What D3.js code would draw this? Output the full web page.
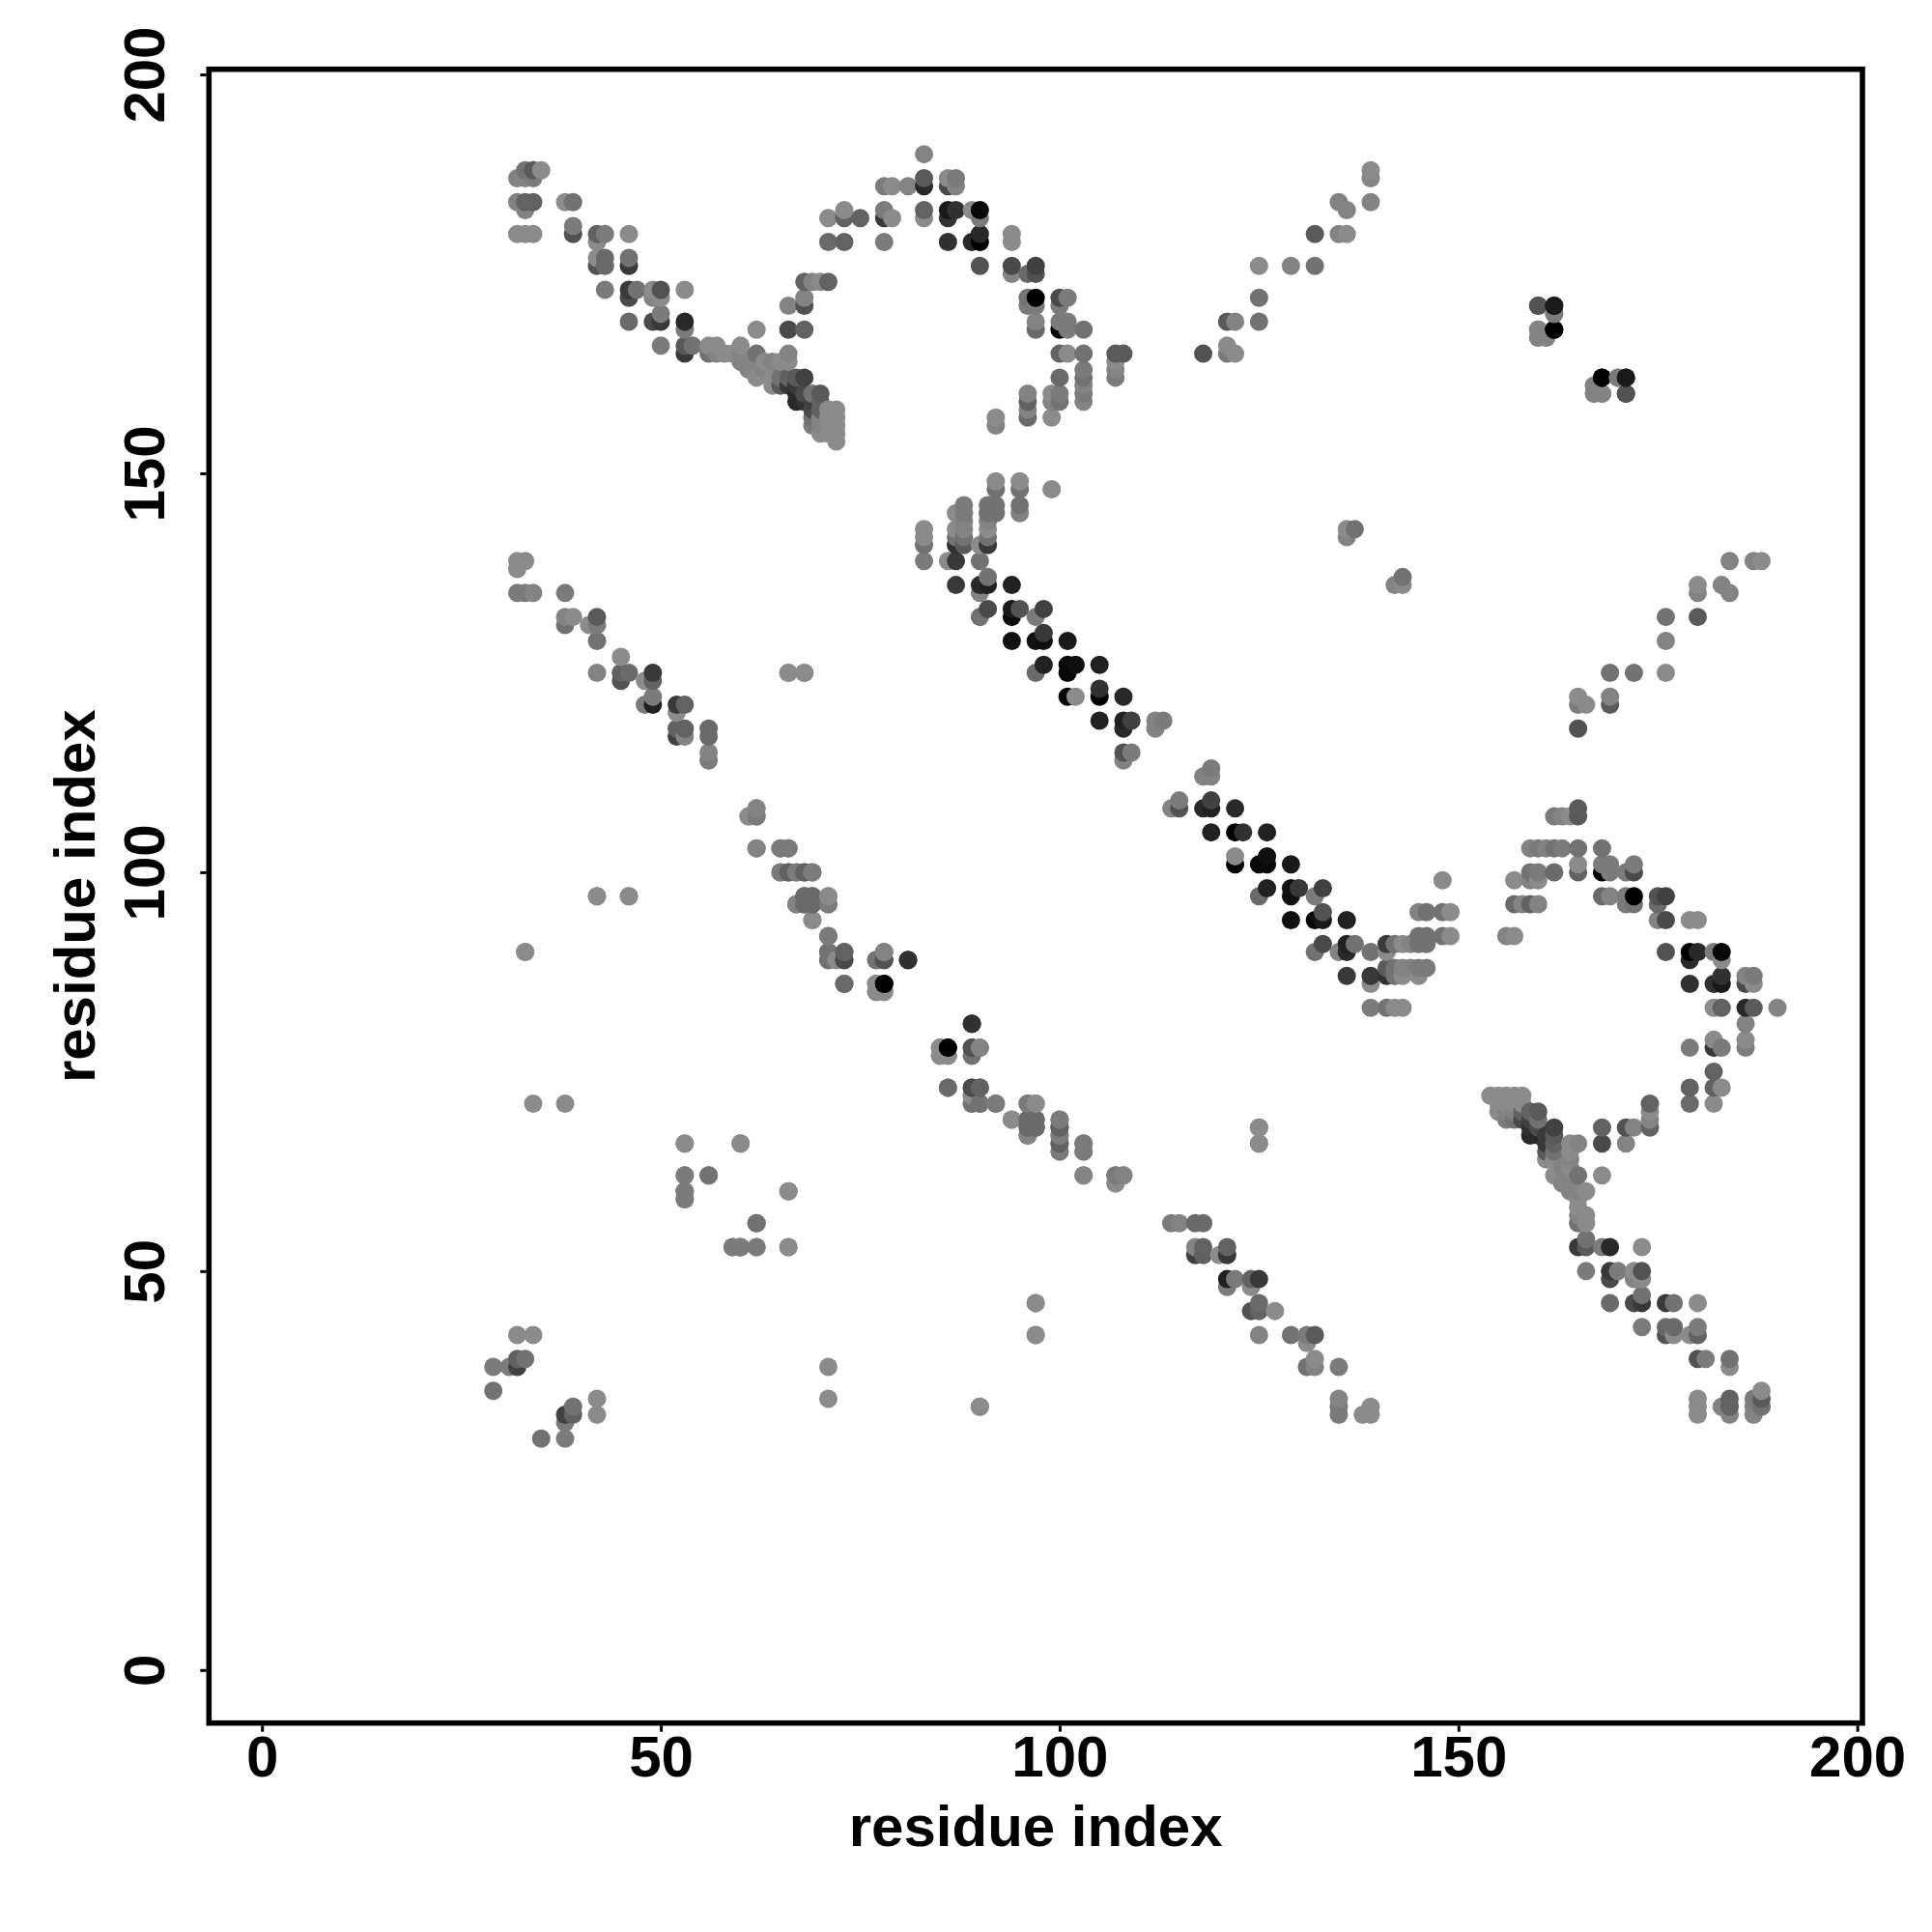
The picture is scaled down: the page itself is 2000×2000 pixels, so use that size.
<!DOCTYPE html>
<html>
<head>
<meta charset="utf-8">
<script src="https://cdn.jsdelivr.net/npm/d3@7"></script>
<style>
html,body{margin:0;padding:0;background:#fff}
svg{display:block}
text{font-family:"Liberation Sans",Arial,sans-serif;font-weight:bold;fill:#000}
</style>
</head>
<body>
<svg id="chart" width="2000" height="2000"></svg>
<script>
// Contact map. Each row: [residue i, residue j, contact strength 0-17]. The map is symmetric: only i<j is listed.
const xAxisTitle = "residue index";
const yAxisTitle = "residue index";
const tickValues = [0, 50, 100, 150, 200];

const ribbonContacts = [
[32,187,1],[33,188,3],[34,188,6],[35,188,0],[33,187,1],[34,187,2],
[32,184,1],[33,184,5],[34,184,5],[33,183,1],[32,180,0],[33,180,0],[34,180,0],
[38,184,0],[39,184,3],[39,181,2],[39,180,7],[42,180,5],[43,180,2],[42,179,0],[46,180,0],
[42,177,0],[43,177,4],[42,176,7],[43,176,4],[46,177,3],[46,176,10],
[43,173,2],[46,173,10],[47,173,3],[46,172,8],[49,173,0],[50,173,7],[49,172,1],[50,172,0],[53,173,0],
[46,169,4],[49,169,8],[50,170,2],[50,169,10],[53,169,12],[53,168,2],
[50,166,2],[53,166,6],[53,165,10],[54,166,3],
[56,166,0],[57,166,0],[56,165,3],[57,165,1],[58,165,0],[59,165,0],[60,166,0],
[62,168,0],[62,165,3],[60,165,1],[60,164,1],[61,164,1],[61,163,1],[62,162,0],[63,164,0],[63,163,1],[64,164,1],[65,164,0],[66,165,1],[66,164,0],
[64,162,0],[64,161,0],[65,162,3],[65,161,6],[66,162,5],[66,161,10],[67,162,6],[68,162,9],[67,161,10],[67,160,12],[67,159,12],
[68,160,8],[68,159,11],[69,160,3],[70,160,6],[69,159,9],[69,158,8],[69,157,3],[69,156,2],[70,159,5],[70,158,5],[70,157,1],[70,156,1],[70,155,0],
[71,158,0],[71,157,0],[71,156,0],[71,155,0],[72,158,0],[72,157,0],[72,156,0],[72,155,0],[72,154,0]
];

const arcContacts = [
[66,171,1],[68,172,1],[68,171,7],[66,168,8],[68,168,5],[68,174,5],[69,174,1],[70,174,0],[71,174,5],
[71,179,4],[73,179,5],[71,182,0],[73,183,0],[73,182,5],[75,182,5],
[78,183,2],[78,182,10],[79,182,0],[78,179,2],[78,186,2],[79,186,0],[81,186,1],
[83,190,1],[83,187,6],[83,186,12],[83,183,5],[83,182,0],
[86,187,0],[87,187,2],[86,186,8],[87,186,1],[86,183,14],[87,183,11],[86,182,11],[89,183,0],[90,183,16],[90,182,2],
[90,180,12],[89,179,12],[90,179,17],[86,179,11],[90,176,7],
[94,180,0],[94,179,0],[94,176,8],[94,175,1],[96,175,4],[97,176,9],[97,175,7],
[96,172,3],[97,172,17],[96,171,2],[97,171,2],[100,172,8],[101,172,2],[100,171,2],
[97,169,1],[97,168,4],[100,169,2],[101,169,2],[100,168,17],[101,168,2],[103,168,3],
[100,165,5],[101,165,0],[103,165,3],[107,165,6],[108,165,6],[107,164,0],[107,163,1],[107,162,2],
[103,163,2],[103,162,3],[103,161,1],[103,160,2],[103,159,1],
[100,162,4],[99,160,0],[100,160,2],[99,159,1],[100,159,3],[99,157,0],
[96,160,1],[96,159,5],[96,158,1],[96,157,4],[92,157,0],[92,156,1]
];

const outerContacts = [
[118,165,7],[121,166,0],[121,165,2],[122,165,0],[121,169,6],[122,169,1],[125,169,3],[125,172,3],
[125,176,0],[129,176,1],[132,176,3],[132,180,6],[135,180,1],[136,180,0],[135,184,1],[136,183,1],
[139,188,0],[139,187,1],[139,184,1],
[160,171,7],[162,171,14],[162,170,2],[160,168,1],[162,168,17],[160,167,1],[161,167,1],
[168,162,17],[170,162,2],[171,162,14],[171,160,7],[167,161,1],[167,160,1],[168,160,1]
];

const sheetContacts = [
[32,139,0],[33,139,0],[32,138,0],[32,135,2],[33,135,2],[34,135,1],[38,135,2],
[38,132,1],[39,132,0],[38,131,3],[41,131,0],[42,132,6],[42,131,2],[42,129,3],[42,125,1],
[45,127,0],[45,125,5],[46,125,4],[45,124,7],[48,124,0],[49,125,10],[49,124,5],
[49,122,2],[48,121,2],[49,121,13],[52,121,10],[53,121,5],[52,120,0],
[52,118,5],[53,118,5],[52,117,9],[53,117,1],[56,118,4],[56,117,4],[56,115,1],[56,114,2],
[66,125,0],[68,125,1],[42,97,0],[46,97,0],[33,90,0],
[62,108,1],[61,107,0],[62,107,2],[62,103,1],[65,103,2],[66,103,2],
[65,100,0],[66,100,5],[67,100,1],[68,100,5],[69,100,2],
[67,96,1],[68,97,5],[69,97,5],[68,96,5],[69,96,5],[71,97,1],[71,96,4],[69,94,0],
[71,92,2],[71,90,3],[71,89,3],[72,89,0],[73,90,5],[73,89,10],[73,86,4],
[77,89,2],[78,90,1],[78,89,8],[81,89,12],[77,86,1],[78,86,17],[77,85,0],[78,85,0],
[89,81,11],[85,78,0],[86,78,17],[85,77,0],[86,77,0],[89,78,7],[90,78,1],[89,77,3],
[86,73,4],[89,73,8],[90,73,5],[89,71,3],[90,71,3],[89,72,0],[92,71,2],
[94,69,0],[96,71,2],[97,71,0],[96,69,4],[97,69,4],[96,68,4],[97,68,4],[96,67,1],
[100,69,2],[100,68,5],[100,67,2],[100,66,5],[100,65,2],[103,66,2],[103,65,2],[103,62,1],
[107,62,2],[108,62,1],[107,61,0]
];

const scatteredContacts = [
[97,46,0],[97,42,0],[90,33,0],[125,68,0],[125,66,0],[34,71,0],[38,71,0],
[53,66,0],[60,66,0],[53,62,0],[56,62,3],[53,60,1],[53,59,1],[66,60,0],[62,56,3],
[59,53,2],[60,53,2],[62,53,2],[66,53,0],
[32,42,0],[34,42,0],[29,38,2],[31,38,2],[32,39,5],[33,39,3],[32,38,9],[29,35,3],
[136,143,0],[137,143,3],[136,142,1]
];

const centerContacts = [
[83,143,0],[83,142,0],[83,141,3],[83,139,2],[86,139,0],[87,139,10],
[87,145,0],[88,146,2],[88,145,2],[87,143,0],[88,144,1],[87,142,3],[88,143,1],[88,142,3],[87,141,11],[88,141,6],
[91,146,3],[92,146,3],[91,145,3],[92,145,3],[91,144,1],[91,143,0],[91,142,3],[91,141,10],[90,141,0],[90,139,3],
[92,149,0],[92,148,3],[95,149,0],[95,148,3],[95,146,3],[95,145,1],[99,148,0],
[87,136,10],[90,136,12],[91,136,13],[91,137,3],[90,135,1],[94,136,13],
[90,132,3],[91,133,8],[94,133,14],[94,132,16],[95,133,7],[97,132,2],[98,133,9],
[94,129,15],[97,129,15],[98,129,15],[98,130,10],[101,129,14],
[98,126,13],[97,125,4],[101,126,16],[102,126,15],[101,125,16],[105,126,13],
[101,122,17],[102,122,0],[105,123,11],[105,122,17],[108,122,12],
[105,119,13],[108,119,13],[109,119,9],[108,118,12],[112,119,1],[113,119,2],[112,118,1],
[108,115,7],[109,115,2],[108,114,1]
];

const strengthDomain = [0, 17];
const grayRange = [139, 0];

const width = 2000, height = 2000;
const frame = {left: 216.3, right: 1928, top: 71.7, bottom: 1783.7};

const x = d3.scaleLinear().domain([-6.65, 200.65]).range([frame.left, frame.right]);
const y = d3.scaleLinear().domain([-6.65, 200.65]).range([frame.bottom, frame.top]);
const grayScale = d3.scaleLinear().domain(strengthDomain).range(grayRange);

const listed = [].concat(ribbonContacts, arcContacts, outerContacts, sheetContacts, scatteredContacts, centerContacts);
// symmetric map: each pair also plotted as (j, i); drawn column by column, later rows on top
const points = listed.flatMap(([i, j, s]) => [{x: i, y: j, s}, {x: j, y: i, s}])
  .sort((a, b) => d3.ascending(a.x, b.x) || d3.ascending(a.y, b.y));

const svg = d3.select("#chart");
svg.append("rect").attr("width", width).attr("height", height).attr("fill", "#fff");

svg.append("g").selectAll("circle").data(points).join("circle")
  .attr("cx", d => x(d.x))
  .attr("cy", d => y(d.y))
  .attr("r", 9.5)
  .attr("fill", d => { const g = Math.round(grayScale(d.s)); return d3.rgb(g, g, g).formatHex(); });

svg.append("rect")
  .attr("x", frame.left).attr("y", frame.top)
  .attr("width", frame.right - frame.left).attr("height", frame.bottom - frame.top)
  .attr("fill", "none").attr("stroke", "#000").attr("stroke-width", 5.6);

const xAxis = svg.append("g").attr("transform", `translate(0,${frame.bottom})`)
  .call(d3.axisBottom(x).tickValues(tickValues).tickSize(9).tickFormat(d3.format("d")));
const yAxis = svg.append("g").attr("transform", `translate(${frame.left},0)`)
  .call(d3.axisLeft(y).tickValues(tickValues).tickSize(9).tickFormat(d3.format("d")));

[xAxis, yAxis].forEach(a => {
  a.select(".domain").remove();
  a.selectAll(".tick line").attr("stroke", "#000").attr("stroke-width", 3);
  a.selectAll(".tick text").style("font-size", "60px").attr("fill", "#000");
});
xAxis.selectAll(".tick line").attr("y1", 2.7).attr("y2", 9);
xAxis.selectAll(".tick text").attr("y", 55.5).attr("dy", 0).attr("text-anchor", "middle");
yAxis.selectAll(".tick line").attr("x1", -2.7).attr("x2", -9);
yAxis.selectAll(".tick text").attr("x", null).attr("dy", 0).attr("y", null)
  .attr("text-anchor", "middle").attr("transform", "translate(-46.3,0) rotate(-90)");

svg.append("text").text(xAxisTitle)
  .attr("x", (frame.left + frame.right) / 2).attr("y", 1911)
  .attr("text-anchor", "middle").style("font-size", "60px");
svg.append("text").text(yAxisTitle)
  .attr("transform", `translate(98,${(frame.top + frame.bottom) / 2}) rotate(-90)`)
  .attr("text-anchor", "middle").style("font-size", "60px");
</script>
</body>
</html>
